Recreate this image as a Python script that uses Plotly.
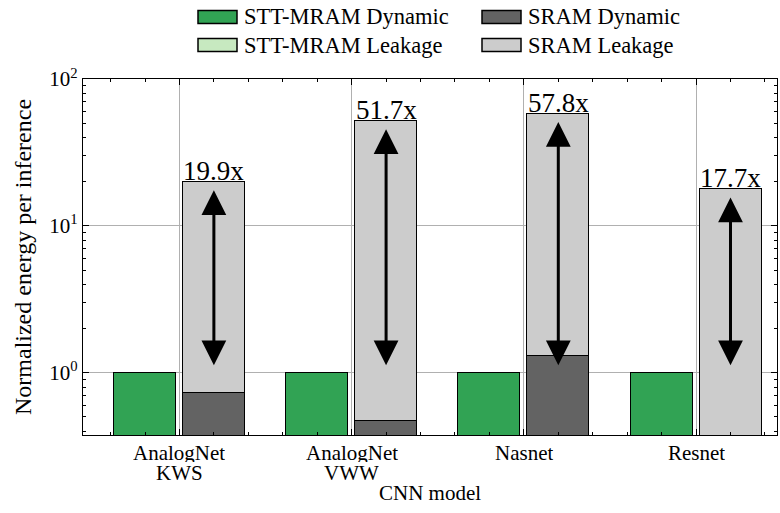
import numpy as np
import plotly.graph_objects as go

# Normalized energy per inference (STT-MRAM total = 1)
models = ["AnalogNet\nKWS", "AnalogNet\nVWW", "Nasnet", "Resnet"]
stt_dynamic = [0.996, 0.996, 0.996, 0.996]
stt_leakage = [0.004, 0.004, 0.004, 0.004]
sram_dynamic = [0.73, 0.47, 1.31, 0.30]
sram_total = [19.9, 51.7, 57.8, 17.7]
sram_leakage = [t - d for t, d in zip(sram_total, sram_dynamic)]

# Colours
C_STT_DYN = "#31a354"
C_STT_LEAK = "#c7e9c0"
C_SRAM_DYN = "#636363"
C_SRAM_LEAK = "#cccccc"

FONT = "Liberation Serif"
W, H = 780, 513
ML, MR, MT, MB = 83, 3, 79, 78

xs = np.arange(len(models))
stt_x = xs - 0.2
sram_x = xs + 0.2
bar_w = 0.36
edge = dict(color="black", width=1.5)

fig = go.Figure()
fig.add_bar(x=stt_x, y=stt_dynamic, width=bar_w, name="STT-MRAM Dynamic",
            marker=dict(color=C_STT_DYN, line=edge))
fig.add_bar(x=stt_x, y=stt_leakage, width=bar_w, name="STT-MRAM Leakage",
            marker=dict(color=C_STT_LEAK, line=edge))
fig.add_bar(x=sram_x, y=sram_dynamic, width=bar_w, name="SRAM Dynamic",
            marker=dict(color=C_SRAM_DYN, line=edge))
fig.add_bar(x=sram_x, y=sram_leakage, width=bar_w, name="SRAM Leakage",
            marker=dict(color=C_SRAM_LEAK, line=edge))

pw, ph = W - ML - MR, H - MT - MB


def px_x(p):
    return (p - ML) / pw


def px_y(p):
    return (H - MB - p) / ph


annotations = []
# Ratio labels and double-headed arrows over the SRAM bars
for xi, tot in zip(sram_x, sram_total):
    annotations.append(dict(
        x=xi, y=np.log10(tot), xref="x", yref="y", text=f"{tot}x",
        showarrow=False, yanchor="bottom", yshift=-6,
        font=dict(family=FONT, size=27, color="black")))
    annotations.append(dict(
        x=xi, y=np.log10(tot * 0.88), ax=xi, ay=np.log10(1.1),
        xref="x", yref="y", axref="x", ayref="y", text="",
        showarrow=True, arrowhead=2, startarrowhead=2, arrowside="end+start",
        arrowwidth=3, arrowsize=1.65, startarrowsize=1.65, arrowcolor="black",
        standoff=0, startstandoff=0))

# Category labels under the x axis, one line per annotation for tight spacing
for xi, name in zip(xs, models):
    for k, line in enumerate(name.split("\n")):
        annotations.append(dict(
            x=xi, y=px_y(452 + 20 * k), xref="x", yref="paper", text=line,
            showarrow=False, xanchor="center", yanchor="middle", height=19,
            valign="middle",
            font=dict(family=FONT, size=21, color="black")))

# Legend drawn as swatches + labels in two columns above the axes
legend_items = [
    ("STT-MRAM Dynamic", C_STT_DYN, 198, 17),
    ("STT-MRAM Leakage", C_STT_LEAK, 198, 45),
    ("SRAM Dynamic", C_SRAM_DYN, 482, 17),
    ("SRAM Leakage", C_SRAM_LEAK, 482, 45),
]
shapes = []
for label, col, x0, yc in legend_items:
    shapes.append(dict(type="rect", xref="paper", yref="paper",
                       x0=px_x(x0), x1=px_x(x0 + 39),
                       y0=px_y(yc + 6.5), y1=px_y(yc - 6.5),
                       fillcolor=col, line=dict(color="black", width=1.5)))
    annotations.append(dict(x=px_x(x0 + 44), y=px_y(yc), xref="paper", yref="paper",
                            text=label, showarrow=False, xanchor="left", yanchor="middle",
                            font=dict(family=FONT, size=22.5, color="black")))

fig.update_layout(
    width=W, height=H,
    margin=dict(l=ML, r=MR, t=MT, b=MB, pad=0),
    barmode="stack", bargap=0,
    showlegend=False,
    plot_bgcolor="white", paper_bgcolor="white",
    font=dict(family=FONT, size=21, color="black"),
    annotations=annotations, shapes=shapes,
)

fig.update_xaxes(
    range=[-0.56, 3.47],
    tickmode="array", tickvals=list(xs), showticklabels=False,
    ticks="inside", ticklen=6, tickwidth=1.2, tickcolor="black",
    minor=dict(tickmode="linear", tick0=0, dtick=0.2, ticks="inside",
               ticklen=3, tickwidth=1, tickcolor="black", showgrid=False),
    showgrid=True, gridcolor="#b0b0b0", gridwidth=1,
    showline=True, linecolor="black", linewidth=1.2, mirror="allticks",
    zeroline=False,
    title=dict(text="CNN model", font=dict(family=FONT, size=21), standoff=50),
)

fig.update_yaxes(
    type="log", range=[np.log10(0.377), 2],
    tickmode="array", tickvals=[1, 10, 100],
    ticktext=["10<sup>0</sup>", "10<sup>1</sup>", "10<sup>2</sup>"],
    tickfont=dict(family=FONT, size=21),
    ticks="inside", ticklen=6, tickwidth=1.2, tickcolor="black",
    minor=dict(dtick="D1", ticks="inside", ticklen=3, tickwidth=1,
               tickcolor="black", showgrid=False),
    showgrid=True, gridcolor="#b0b0b0", gridwidth=1,
    showline=True, linecolor="black", linewidth=1.2, mirror="allticks",
    zeroline=False,
    title=dict(text="Normalized energy per inference",
               font=dict(family=FONT, size=24), standoff=10),
)

fig.write_html("out.html")
